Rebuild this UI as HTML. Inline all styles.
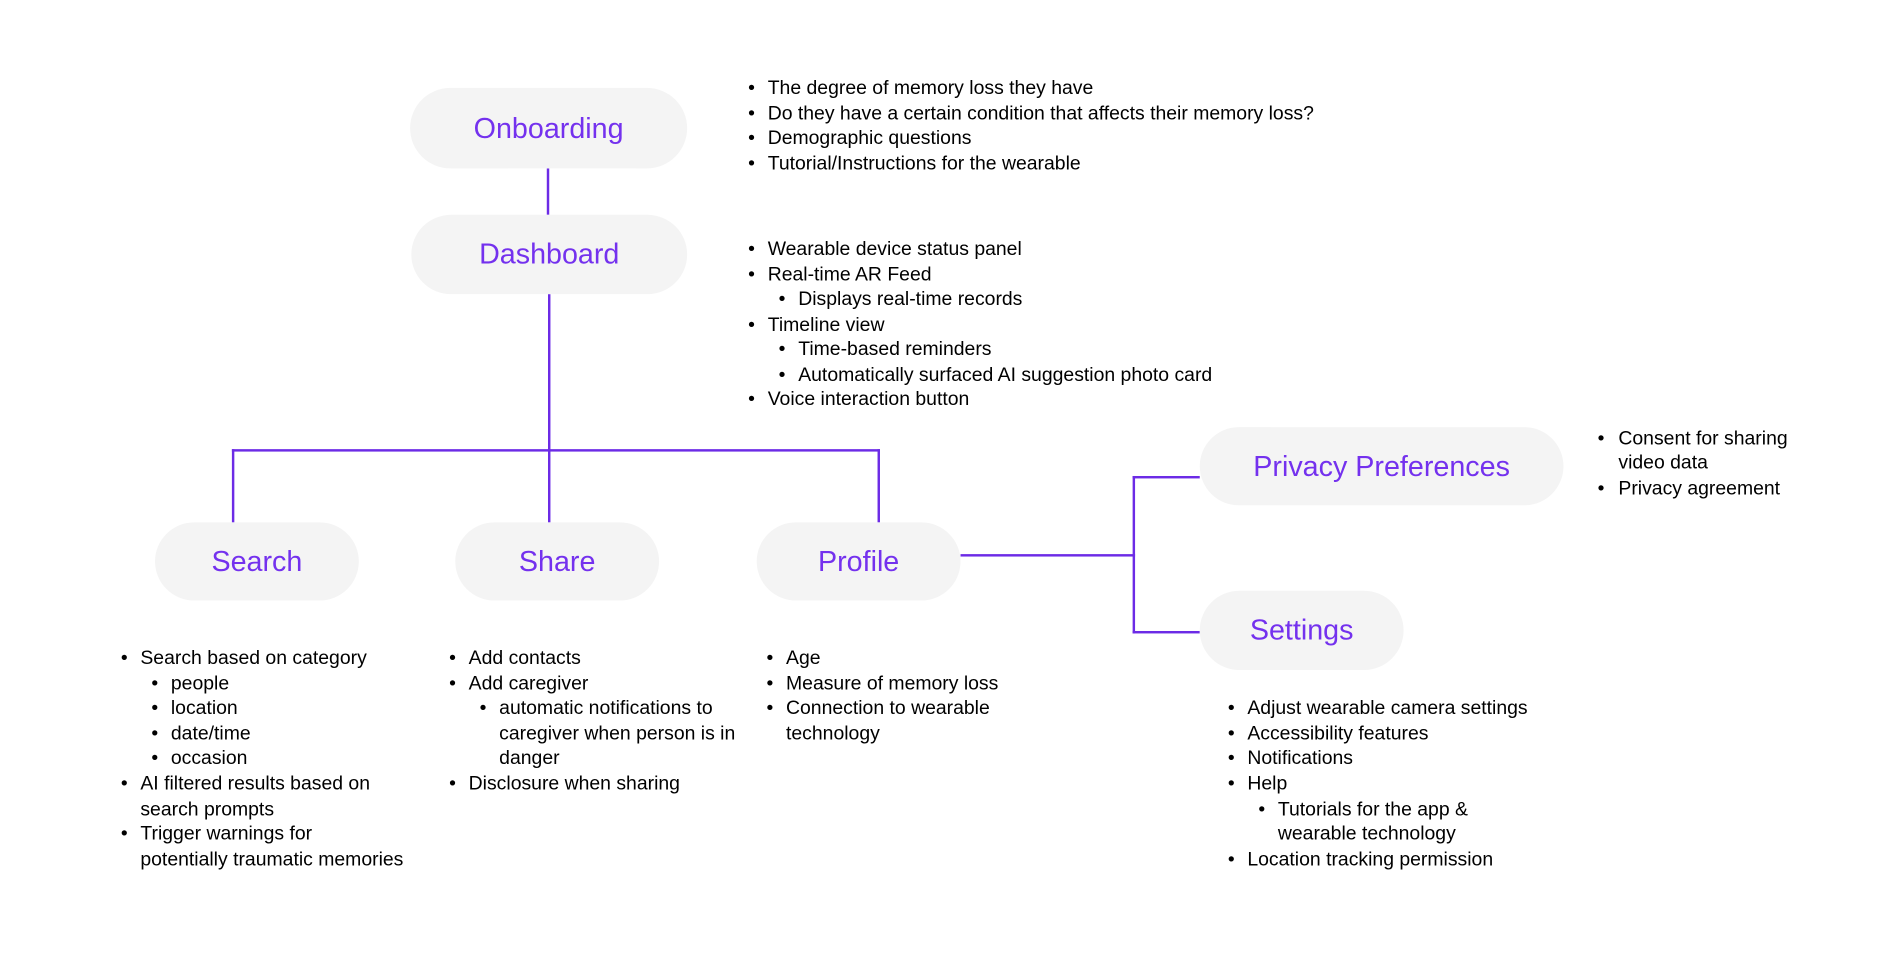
<!DOCTYPE html>
<html><head><meta charset="utf-8"><style>
html,body{margin:0;padding:0;background:#fff;width:1904px;height:969px;overflow:hidden}
#c{position:absolute;left:0;top:0;width:1560px;height:794px;transform:scale(1.2205);transform-origin:0 0;font-family:"Liberation Sans",sans-serif}
.p{position:absolute;background:#f4f4f4;border-radius:33px;color:#7431ee;font-size:23.5px;display:flex;align-items:center;justify-content:center}
.l{position:absolute;background:#6c2be6}
.t{position:absolute;font-size:15.9px;line-height:20px;color:#000;white-space:nowrap}
</style></head><body><div id="c">
<div class="l" style="left:448px;top:138px;width:2px;height:38px"></div>
<div class="l" style="left:449px;top:241px;width:2px;height:187px"></div>
<div class="l" style="left:190px;top:368px;width:531px;height:2px"></div>
<div class="l" style="left:190px;top:368px;width:2px;height:60px"></div>
<div class="l" style="left:719px;top:368px;width:2px;height:60px"></div>
<div class="l" style="left:787px;top:454px;width:143px;height:2px"></div>
<div class="l" style="left:928px;top:390px;width:2px;height:129px"></div>
<div class="l" style="left:928px;top:390px;width:55px;height:2px"></div>
<div class="l" style="left:928px;top:517px;width:55px;height:2px"></div>

<div class="p" style="left:336px;top:72px;width:227px;height:66px">Onboarding</div>
<div class="p" style="left:337px;top:176px;width:226px;height:65px">Dashboard</div>
<div class="p" style="left:127px;top:428px;width:167px;height:64px">Search</div>
<div class="p" style="left:373px;top:428px;width:167px;height:64px">Share</div>
<div class="p" style="left:620px;top:428px;width:167px;height:64px">Profile</div>
<div class="p" style="left:983px;top:350px;width:298px;height:64px">Privacy Preferences</div>
<div class="p" style="left:983px;top:484px;width:167px;height:65px">Settings</div>

<div class="t" style="left:613px;top:63px">•</div><div class="t" style="left:629px;top:63px">The degree of memory loss they have</div>
<div class="t" style="left:613px;top:84px">•</div><div class="t" style="left:629px;top:84px">Do they have a certain condition that affects their memory loss?</div>
<div class="t" style="left:613px;top:104px">•</div><div class="t" style="left:629px;top:104px">Demographic questions</div>
<div class="t" style="left:613px;top:125px">•</div><div class="t" style="left:629px;top:125px">Tutorial/Instructions for the wearable</div>

<div class="t" style="left:613px;top:195px">•</div><div class="t" style="left:629px;top:195px">Wearable device status panel</div>
<div class="t" style="left:613px;top:216px">•</div><div class="t" style="left:629px;top:216px">Real-time AR Feed</div>
<div class="t" style="left:638px;top:236px">•</div><div class="t" style="left:654px;top:236px">Displays real-time records</div>
<div class="t" style="left:613px;top:257px">•</div><div class="t" style="left:629px;top:257px">Timeline view</div>
<div class="t" style="left:638px;top:277px">•</div><div class="t" style="left:654px;top:277px">Time-based reminders</div>
<div class="t" style="left:638px;top:298px">•</div><div class="t" style="left:654px;top:298px">Automatically surfaced AI suggestion photo card</div>
<div class="t" style="left:613px;top:318px">•</div><div class="t" style="left:629px;top:318px">Voice interaction button</div>

<div class="t" style="left:1309px;top:350px">•</div><div class="t" style="left:1326px;top:350px">Consent for sharing</div>
<div class="t" style="left:1326px;top:370px">video data</div>
<div class="t" style="left:1309px;top:391px">•</div><div class="t" style="left:1326px;top:391px">Privacy agreement</div>

<div class="t" style="left:99px;top:530px">•</div><div class="t" style="left:115px;top:530px">Search based on category</div>
<div class="t" style="left:124px;top:551px">•</div><div class="t" style="left:140px;top:551px">people</div>
<div class="t" style="left:124px;top:571px">•</div><div class="t" style="left:140px;top:571px">location</div>
<div class="t" style="left:124px;top:592px">•</div><div class="t" style="left:140px;top:592px">date/time</div>
<div class="t" style="left:124px;top:612px">•</div><div class="t" style="left:140px;top:612px">occasion</div>
<div class="t" style="left:99px;top:633px">•</div><div class="t" style="left:115px;top:633px">AI filtered results based on</div>
<div class="t" style="left:115px;top:654px">search prompts</div>
<div class="t" style="left:99px;top:674px">•</div><div class="t" style="left:115px;top:674px">Trigger warnings for</div>
<div class="t" style="left:115px;top:695px">potentially traumatic memories</div>

<div class="t" style="left:368px;top:530px">•</div><div class="t" style="left:384px;top:530px">Add contacts</div>
<div class="t" style="left:368px;top:551px">•</div><div class="t" style="left:384px;top:551px">Add caregiver</div>
<div class="t" style="left:393px;top:571px">•</div><div class="t" style="left:409px;top:571px">automatic notifications to</div>
<div class="t" style="left:409px;top:592px">caregiver when person is in</div>
<div class="t" style="left:409px;top:612px">danger</div>
<div class="t" style="left:368px;top:633px">•</div><div class="t" style="left:384px;top:633px">Disclosure when sharing</div>

<div class="t" style="left:628px;top:530px">•</div><div class="t" style="left:644px;top:530px">Age</div>
<div class="t" style="left:628px;top:551px">•</div><div class="t" style="left:644px;top:551px">Measure of memory loss</div>
<div class="t" style="left:628px;top:571px">•</div><div class="t" style="left:644px;top:571px">Connection to wearable</div>
<div class="t" style="left:644px;top:592px">technology</div>

<div class="t" style="left:1006px;top:571px">•</div><div class="t" style="left:1022px;top:571px">Adjust wearable camera settings</div>
<div class="t" style="left:1006px;top:592px">•</div><div class="t" style="left:1022px;top:592px">Accessibility features</div>
<div class="t" style="left:1006px;top:612px">•</div><div class="t" style="left:1022px;top:612px">Notifications</div>
<div class="t" style="left:1006px;top:633px">•</div><div class="t" style="left:1022px;top:633px">Help</div>
<div class="t" style="left:1031px;top:654px">•</div><div class="t" style="left:1047px;top:654px">Tutorials for the app &amp;</div>
<div class="t" style="left:1047px;top:674px">wearable technology</div>
<div class="t" style="left:1006px;top:695px">•</div><div class="t" style="left:1022px;top:695px">Location tracking permission</div>
</div></body></html>
